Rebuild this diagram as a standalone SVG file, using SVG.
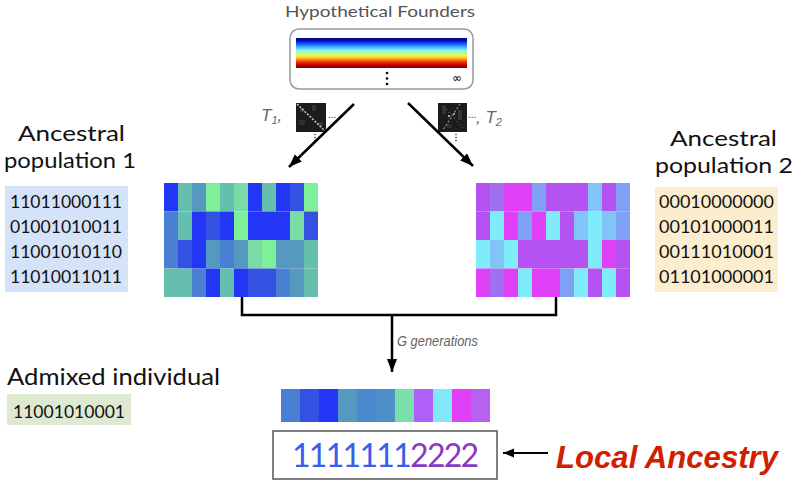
<svg xmlns="http://www.w3.org/2000/svg" width="797" height="483" viewBox="0 0 797 483">
<defs>
<style>
.lbl{font-family:Lato,"Open Sans","DejaVu Sans",sans-serif;fill:#111}
.big{font-size:22px}
.bin{font-family:Lato,"Open Sans","DejaVu Sans",sans-serif;font-size:18px;fill:#111}
.it{font-family:"Liberation Sans",Arial,sans-serif;font-style:italic;fill:#666}
.conn{stroke:#000;stroke-width:2.5;fill:none}
.B{fill:#2336f5}.B2{fill:#3352e3}.S{fill:#4a80d2}.TB{fill:#5598c0}.T{fill:#66bfae}.G{fill:#7ef09a}.LG{fill:#78dca4}
.M{fill:#e040f5}.P{fill:#b552f2}.V{fill:#a070f0}.LB{fill:#80a0f5}.LB2{fill:#80c4f8}.C{fill:#80ecfa}
</style>
<linearGradient id="jet" x1="0" y1="0" x2="0" y2="1">
<stop offset="0" stop-color="#00007a"/>
<stop offset="0.1" stop-color="#0010c8"/>
<stop offset="0.2" stop-color="#1060f0"/>
<stop offset="0.3" stop-color="#40b0ff"/>
<stop offset="0.4" stop-color="#80f0f8"/>
<stop offset="0.5" stop-color="#b0ff90"/>
<stop offset="0.6" stop-color="#f8f040"/>
<stop offset="0.7" stop-color="#ffa020"/>
<stop offset="0.8" stop-color="#f03000"/>
<stop offset="0.9" stop-color="#c00000"/>
<stop offset="1" stop-color="#800000"/>
</linearGradient>
<marker id="ah" markerUnits="userSpaceOnUse" markerWidth="14" markerHeight="12" refX="13" refY="5" orient="auto">
<path d="M0,0 L13,5 L0,10 z" fill="#000"/>
</marker>
<marker id="ah2" markerUnits="userSpaceOnUse" markerWidth="12" markerHeight="10" refX="11" refY="4.5" orient="auto">
<path d="M0,0 L11,4.5 L0,9 z" fill="#000"/>
</marker>
</defs>
<rect width="797" height="483" fill="#fff"/>

<g id="founders">
<text x="380" y="17" text-anchor="middle" style="font-family:Lato,'Open Sans',sans-serif;font-size:16px;fill:#555" textLength="190" lengthAdjust="spacingAndGlyphs">Hypothetical Founders</text>
<rect x="290" y="29" width="183" height="60" rx="9" fill="#fff" stroke="#999" stroke-width="1.5"/>
<rect x="296" y="38" width="171" height="30" fill="url(#jet)"/>
<circle cx="387" cy="73" r="1.3" fill="#000"/>
<circle cx="387" cy="78.5" r="1.3" fill="#000"/>
<circle cx="387" cy="84" r="1.3" fill="#000"/>
<text x="457" y="82" text-anchor="middle" style="font-family:'DejaVu Sans',sans-serif;font-size:12px;fill:#000">∞</text>
</g>

<g id="transition1">
<text x="261" y="121" class="it" font-size="17">T<tspan font-size="11" dy="3">1</tspan><tspan dy="-3">,</tspan></text>
<rect x="296" y="103" width="30" height="29" fill="#1c1c1c"/>
<rect x="300" y="108" width="4" height="4" fill="#3a3a3a"/>
<rect x="312" y="105" width="4" height="6" fill="#333"/>
<rect x="318" y="122" width="5" height="4" fill="#383838"/>
<rect x="299" y="120" width="6" height="5" fill="#2e2e2e"/>
<line x1="297" y1="104" x2="325" y2="131" stroke="#c8c8c8" stroke-width="1.5" stroke-dasharray="2,1.5"/>
<text x="328" y="118" style="font-family:'Liberation Sans',sans-serif;font-size:10px;fill:#333">...</text>
<circle cx="315" cy="134.5" r="0.8" fill="#333"/><circle cx="315" cy="137.5" r="0.8" fill="#333"/><circle cx="315" cy="140.5" r="0.8" fill="#333"/>
</g>

<g id="transition2">
<rect x="438" y="103" width="29" height="29" fill="#1c1c1c"/>
<rect x="442" y="106" width="4" height="8" fill="#333"/>
<rect x="458" y="110" width="4" height="10" fill="#353535"/>
<rect x="446" y="124" width="6" height="4" fill="#303030"/>
<line x1="460" y1="104" x2="443" y2="130" stroke="#8a8a8a" stroke-width="1.2" stroke-dasharray="2,2"/>
<line x1="443" y1="106" x2="463" y2="128" stroke="#6a6a6a" stroke-width="1" stroke-dasharray="1.5,2.5"/>
<circle cx="449" cy="116" r="1" fill="#ddd"/><circle cx="454" cy="114" r="0.9" fill="#ccc"/>
<text x="468" y="118" style="font-family:'Liberation Sans',sans-serif;font-size:10px;fill:#333">...</text>
<text x="476" y="123" class="it" font-size="17">, T<tspan font-size="11" dy="3">2</tspan></text>
<circle cx="456" cy="134.5" r="0.8" fill="#333"/><circle cx="456" cy="137.5" r="0.8" fill="#333"/><circle cx="456" cy="140.5" r="0.8" fill="#333"/>
</g>

<g id="pop1">
<text x="18" y="141" class="lbl big" textLength="107" lengthAdjust="spacingAndGlyphs">Ancestral</text>
<text x="4" y="168" class="lbl big" textLength="132" lengthAdjust="spacingAndGlyphs">population 1</text>
<rect x="5" y="186" width="123" height="106" fill="#d5e3f8"/>
<text x="10" y="208" class="bin" textLength="112" lengthAdjust="spacingAndGlyphs">11011000111</text>
<text x="10" y="233" class="bin" textLength="112" lengthAdjust="spacingAndGlyphs">01001010011</text>
<text x="10" y="258" class="bin" textLength="112" lengthAdjust="spacingAndGlyphs">11001010110</text>
<text x="10" y="283" class="bin" textLength="112" lengthAdjust="spacingAndGlyphs">11010011011</text>
</g>

<g id="heat1">
<rect class="B" x="164" y="183" width="14" height="28.5"/><rect class="T" x="178" y="183" width="14" height="28.5"/><rect class="TB" x="192" y="183" width="14" height="28.5"/><rect class="G" x="206" y="183" width="14" height="28.5"/><rect class="T" x="220" y="183" width="14" height="28.5"/><rect class="LG" x="234" y="183" width="14" height="28.5"/><rect class="B" x="248" y="183" width="14" height="28.5"/><rect class="T" x="262" y="183" width="14" height="28.5"/><rect class="B" x="276" y="183" width="14" height="28.5"/><rect class="B2" x="290" y="183" width="14" height="28.5"/><rect class="G" x="304" y="183" width="14" height="28.5"/>
<rect class="S" x="164" y="211.5" width="14" height="28.5"/><rect class="T" x="178" y="211.5" width="14" height="28.5"/><rect class="B" x="192" y="211.5" width="14" height="28.5"/><rect class="B2" x="206" y="211.5" width="14" height="28.5"/><rect class="B" x="220" y="211.5" width="14" height="28.5"/><rect class="G" x="234" y="211.5" width="14" height="28.5"/><rect class="B" x="248" y="211.5" width="14" height="28.5"/><rect class="B" x="262" y="211.5" width="14" height="28.5"/><rect class="B" x="276" y="211.5" width="14" height="28.5"/><rect class="LG" x="290" y="211.5" width="14" height="28.5"/><rect class="B2" x="304" y="211.5" width="14" height="28.5"/>
<rect class="S" x="164" y="240" width="14" height="28.5"/><rect class="B2" x="178" y="240" width="14" height="28.5"/><rect class="B" x="192" y="240" width="14" height="28.5"/><rect class="TB" x="206" y="240" width="14" height="28.5"/><rect class="S" x="220" y="240" width="14" height="28.5"/><rect class="TB" x="234" y="240" width="14" height="28.5"/><rect class="LG" x="248" y="240" width="14" height="28.5"/><rect class="G" x="262" y="240" width="14" height="28.5"/><rect class="TB" x="276" y="240" width="14" height="28.5"/><rect class="TB" x="290" y="240" width="14" height="28.5"/><rect class="T" x="304" y="240" width="14" height="28.5"/>
<rect class="T" x="164" y="268.5" width="14" height="28.5"/><rect class="T" x="178" y="268.5" width="14" height="28.5"/><rect class="S" x="192" y="268.5" width="14" height="28.5"/><rect class="B" x="206" y="268.5" width="14" height="28.5"/><rect class="T" x="220" y="268.5" width="14" height="28.5"/><rect class="B" x="234" y="268.5" width="14" height="28.5"/><rect class="B2" x="248" y="268.5" width="14" height="28.5"/><rect class="B2" x="262" y="268.5" width="14" height="28.5"/><rect class="S" x="276" y="268.5" width="14" height="28.5"/><rect class="TB" x="290" y="268.5" width="14" height="28.5"/><rect class="T" x="304" y="268.5" width="14" height="28.5"/>
</g>

<g id="heat2">
<rect class="P" x="476" y="183" width="14" height="28.5"/><rect class="V" x="490" y="183" width="14" height="28.5"/><rect class="M" x="504" y="183" width="14" height="28.5"/><rect class="M" x="518" y="183" width="14" height="28.5"/><rect class="LB" x="532" y="183" width="14" height="28.5"/><rect class="P" x="546" y="183" width="14" height="28.5"/><rect class="P" x="560" y="183" width="14" height="28.5"/><rect class="P" x="574" y="183" width="14" height="28.5"/><rect class="LB2" x="588" y="183" width="14" height="28.5"/><rect class="P" x="602" y="183" width="14" height="28.5"/><rect class="LB" x="616" y="183" width="14" height="28.5"/>
<rect class="P" x="476" y="211.5" width="14" height="28.5"/><rect class="C" x="490" y="211.5" width="14" height="28.5"/><rect class="M" x="504" y="211.5" width="14" height="28.5"/><rect class="LB" x="518" y="211.5" width="14" height="28.5"/><rect class="M" x="532" y="211.5" width="14" height="28.5"/><rect class="C" x="546" y="211.5" width="14" height="28.5"/><rect class="P" x="560" y="211.5" width="14" height="28.5"/><rect class="LB2" x="574" y="211.5" width="14" height="28.5"/><rect class="C" x="588" y="211.5" width="14" height="28.5"/><rect class="LB2" x="602" y="211.5" width="14" height="28.5"/><rect class="LB" x="616" y="211.5" width="14" height="28.5"/>
<rect class="C" x="476" y="240" width="14" height="28.5"/><rect class="LB2" x="490" y="240" width="14" height="28.5"/><rect class="C" x="504" y="240" width="14" height="28.5"/><rect class="P" x="518" y="240" width="14" height="28.5"/><rect class="P" x="532" y="240" width="14" height="28.5"/><rect class="P" x="546" y="240" width="14" height="28.5"/><rect class="P" x="560" y="240" width="14" height="28.5"/><rect class="P" x="574" y="240" width="14" height="28.5"/><rect class="C" x="588" y="240" width="14" height="28.5"/><rect class="M" x="602" y="240" width="14" height="28.5"/><rect class="P" x="616" y="240" width="14" height="28.5"/>
<rect class="M" x="476" y="268.5" width="14" height="28.5"/><rect class="V" x="490" y="268.5" width="14" height="28.5"/><rect class="M" x="504" y="268.5" width="14" height="28.5"/><rect class="C" x="518" y="268.5" width="14" height="28.5"/><rect class="M" x="532" y="268.5" width="14" height="28.5"/><rect class="M" x="546" y="268.5" width="14" height="28.5"/><rect class="LB" x="560" y="268.5" width="14" height="28.5"/><rect class="C" x="574" y="268.5" width="14" height="28.5"/><rect class="P" x="588" y="268.5" width="14" height="28.5"/><rect class="C" x="602" y="268.5" width="14" height="28.5"/><rect class="P" x="616" y="268.5" width="14" height="28.5"/>
</g>

<g id="pop2">
<text x="670" y="146" class="lbl big" textLength="107" lengthAdjust="spacingAndGlyphs">Ancestral</text>
<text x="655" y="173" class="lbl big" textLength="138" lengthAdjust="spacingAndGlyphs">population 2</text>
<rect x="655" y="187" width="123" height="105" fill="#fbedcd"/>
<text x="659" y="208" class="bin" textLength="115" lengthAdjust="spacingAndGlyphs">00010000000</text>
<text x="659" y="233" class="bin" textLength="115" lengthAdjust="spacingAndGlyphs">00101000011</text>
<text x="659" y="258" class="bin" textLength="115" lengthAdjust="spacingAndGlyphs">00111010001</text>
<text x="659" y="283" class="bin" textLength="115" lengthAdjust="spacingAndGlyphs">01101000001</text>
</g>

<g id="admixed">
<text x="7" y="385" class="lbl" font-size="24" textLength="213" lengthAdjust="spacingAndGlyphs">Admixed individual</text>
<rect x="7" y="394" width="124" height="31" fill="#dee9d2"/>
<text x="13" y="418" class="bin" textLength="112" lengthAdjust="spacingAndGlyphs">11001010001</text>
</g>

<g id="admixbar">
<rect class="S" x="281" y="389" width="19.2" height="33"/><rect class="B2" x="300" y="389" width="19.2" height="33"/><rect class="B" x="319" y="389" width="19.2" height="33"/><rect class="TB" x="338" y="389" width="19.2" height="33"/><rect fill="#4a88d0" x="357" y="389" width="19.2" height="33"/><rect fill="#5090c8" x="376" y="389" width="19.2" height="33"/><rect fill="#78e0a8" x="395" y="389" width="19.2" height="33"/><rect fill="#b060f8" x="414" y="389" width="19.2" height="33"/><rect fill="#80e8f8" x="433" y="389" width="19.2" height="33"/><rect fill="#e040f8" x="452" y="389" width="19.2" height="33"/><rect fill="#b860f0" x="471" y="389" width="19" height="33"/>
</g>

<g id="localancestry">
<rect x="273" y="431" width="224" height="48" fill="#fff" stroke="#555" stroke-width="1.5"/>
<text x="292" y="467" style="font-family:Lato,'Open Sans',sans-serif;font-size:32px;letter-spacing:-1.7px"><tspan fill="#3a5ee8">1111111</tspan><tspan fill="#8a38c0">2222</tspan></text>
</g>

<g id="label-local">
<text x="556" y="468" style="font-family:'Liberation Sans',Arial,sans-serif;font-size:31px;font-weight:bold;font-style:italic;fill:#d02000" textLength="222" lengthAdjust="spacingAndGlyphs">Local Ancestry</text>
</g>

<g id="connectors">
<line class="conn" x1="354" y1="104" x2="289" y2="167" marker-end="url(#ah)"/>
<line class="conn" x1="408" y1="103" x2="473" y2="166" marker-end="url(#ah)"/>
<polyline class="conn" points="242,297 242,315 556,315 556,297"/>
<line class="conn" x1="392" y1="315" x2="392" y2="372" marker-end="url(#ah)"/>
<line stroke="#000" stroke-width="2" x1="548" y1="453" x2="503" y2="453" marker-end="url(#ah2)"/>
<text x="397" y="346" class="it" font-size="14" textLength="81" lengthAdjust="spacingAndGlyphs">G generations</text>
</g>
</svg>
